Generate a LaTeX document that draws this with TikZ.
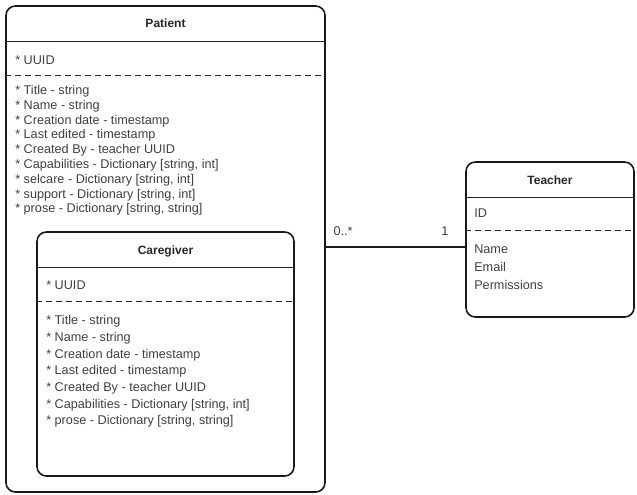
\documentclass[tikz,border=0pt]{standalone}
\usepackage{fontspec}
\setmainfont{Liberation Sans}

\tikzstyle{entity} = [rectangle, rounded corners=7pt, draw=black!90, line width=1.2pt, inner sep=0pt]
\tikzstyle{title} = [font=\fontsize{9}{11}\selectfont\bfseries, text=black!85]
\tikzstyle{attr} = [anchor=north west, inner sep=0pt, align=left, text=black!75, font=\fontsize{9.5}{11.1}\selectfont]
\tikzstyle{sep} = [line width=0.75pt, draw=black!85]
\tikzstyle{dsep} = [sep, dash pattern=on 4.5pt off 3pt]
\tikzstyle{link} = [line width=1.2pt, draw=black!90]
\tikzstyle{mult} = [inner sep=0pt, text=black!75, font=\fontsize{9.5}{11.1}\selectfont]

\begin{document}
\begin{tikzpicture}[x=0.75pt, y=-0.75pt]
			\useasboundingbox (0,0) rectangle (637,494);
			
			% Patient
			\node (patient) [entity, minimum width=239.25pt, minimum height=364.5pt] at (165.5,249) {};
			\node (patienttitle) [title] at (165.5,23.5) {Patient};
			\draw [sep] (patient.west |- 0,41) -- (patient.east |- 0,41);
			\node (patientid) [attr] at (15,55.5) {* UUID};
			\draw [dsep] (patient.west |- 0,75.5) -- (patient.east |- 0,75.5);
			\node (patientattr) [attr] at (15,85) {
				* Title - string \\
				* Name - string \\
				* Creation date - timestamp \\
				* Last edited - timestamp \\
				* Created By - teacher UUID \\
				* Capabilities - Dictionary [string, int] \\
				* selcare - Dictionary [string, int] \\
				* support - Dictionary [string, int] \\
				* prose - Dictionary [string, string]
			};
			
			% Caregiver
			\node (caregiver) [entity, minimum width=192.75pt, minimum height=183pt] at (165.5,354) {};
			\node (caregivertitle) [title] at (165.5,251) {Caregiver};
			\draw [sep] (caregiver.west |- 0,267) -- (caregiver.east |- 0,267);
			\node (caregiverid) [attr] at (46,280.5) {* UUID};
			\draw [dsep] (caregiver.west |- 0,301.7) -- (caregiver.east |- 0,301.7);
			\node (caregiverattr) [attr, font=\fontsize{9.5}{12.5}\selectfont] at (46,315.5) {
				* Title - string \\
				* Name - string \\
				* Creation date - timestamp \\
				* Last edited - timestamp \\
				* Created By - teacher UUID \\
				* Capabilities - Dictionary [string, int] \\
				* prose - Dictionary [string, string]
			};
			
			% Teacher
			\node (teacher) [entity, minimum width=126pt, minimum height=116.25pt] at (550,239.5) {};
			\node (teachertitle) [title] at (550,180) {Teacher};
			\draw [sep] (teacher.west |- 0,197) -- (teacher.east |- 0,197);
			\node (teacherid) [attr] at (474,209) {ID};
			\draw [dsep] (teacher.west |- 0,230.7) -- (teacher.east |- 0,230.7);
			\node (teacherattr) [attr, font=\fontsize{9.5}{13.4}\selectfont] at (474,244.5) {
				Name \\
				Email \\
				Permissions
			};
			
			% association
			\draw [link] ([yshift=1.7pt]patient.east) -- ([yshift=1.7pt]patient.east -| teacher.west)
				node [mult, pos=0, anchor=base west, xshift=5.2pt, yshift=8.4pt] {0..*}
				node [mult, pos=1, anchor=base east, xshift=-12pt, yshift=8.4pt] {1};
			
		\end{tikzpicture}
\end{document}
